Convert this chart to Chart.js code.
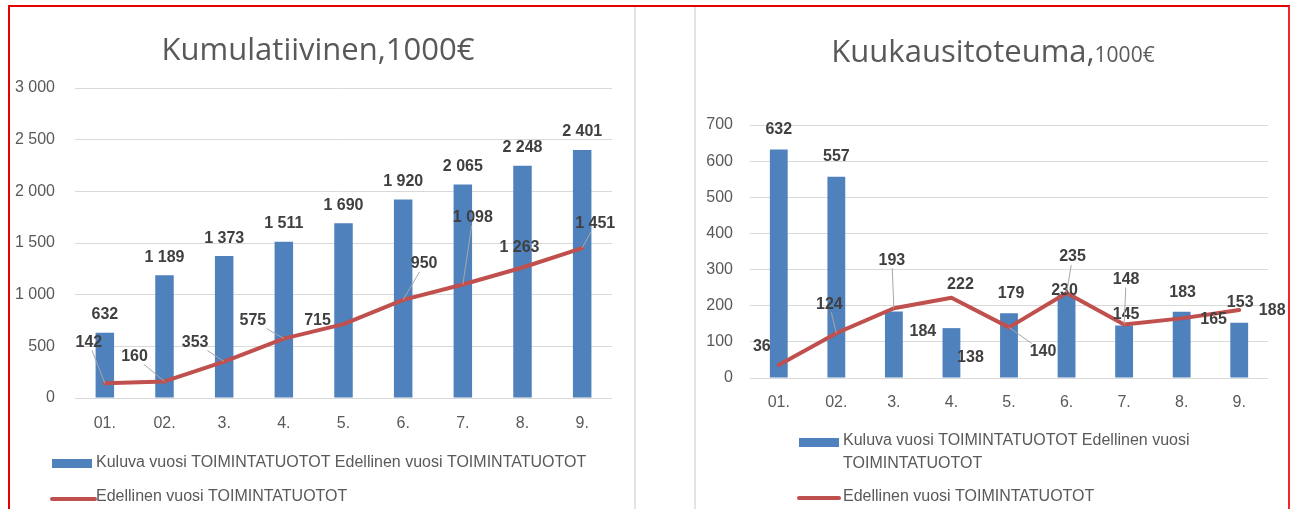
<!DOCTYPE html>
<html>
<head>
<meta charset="utf-8">
<script src="https://cdn.jsdelivr.net/npm/chart.js@4.4.0/dist/chart.umd.min.js"></script>
<style>
  html, body { margin: 0; padding: 0; background: #fff; }
  body { width: 1291px; height: 509px; overflow: hidden; position: relative; }
  #frame { position: absolute; left: 8px; top: 5px; width: 1282px; height: 520px; box-sizing: border-box;
           border-left: 2px solid rgb(230,0,0); border-top: 2px solid rgb(230,0,0); border-right: 2px solid rgb(240,40,40); }
  .sep { position: absolute; top: 7px; width: 2px; height: 502px; background: #e3e3e3; }
  .wrap { position: absolute; top: 7px; height: 502px; }
  #w1 { left: 10px; width: 624px; }
  #w2 { left: 696px; width: 590px; }
</style>
</head>
<body>
<div id="frame"></div>
<div class="sep" style="left:634px"></div>
<div class="sep" style="left:694px"></div>
<div class="wrap" id="w1"><canvas id="c1" width="624" height="502"></canvas></div>
<div class="wrap" id="w2"><canvas id="c2" width="590" height="502"></canvas></div>
<script>
// ---------- DATA ----------
const months = ['01.', '02.', '3.', '4.', '5.', '6.', '7.', '8.', '9.'];
const cumCurrent  = [632, 1189, 1373, 1511, 1690, 1920, 2065, 2248, 2401];
const cumPrevious = [142, 160, 353, 575, 715, 950, 1098, 1263, 1451];
const monCurrent  = [632, 557, 184, 138, 179, 230, 145, 183, 153];
const monPrevious = [36, 124, 193, 222, 140, 235, 148, 165, 188];
const cumAxisMax = 3000, cumAxisStep = 500;
const monAxisMax = 700,  monAxisStep = 100;
const barSeriesName  = 'Kuluva vuosi TOIMINTATUOTOT Edellinen vuosi TOIMINTATUOTOT';
const lineSeriesName = 'Edellinen vuosi TOIMINTATUOTOT';
const cumTitle = 'Kumulatiivinen,1000€';
const monTitleMain = 'Kuukausitoteuma,';
const monTitleUnit = '1000€';

// ---------- LABEL PLACEMENT (pixel offsets of data labels from their point) ----------
const cumBarLabelOff  = [[0,-18],[0,-18],[0,-18],[0,-18],[0,-18],[0,-18],[0,-18],[0,-18],[0,-18]];
const cumLineLabelOff = [[-16,-41],[-30,-25],[-29,-19],[-31,-18],[-26,-4],[21,-36],[10,-67],[-3,-20],[13,-24]];
const cumLineLeader   = [1,1,1,1,0,1,1,0,1];
const monBarLabelOff  = [[0,-20],[0,-20],[29,20],[19,29],[2,-20],[-2,-4],[2,-11],[1,-19],[1,-20]];
const monLineLabelOff = [[-17,-18],[-7,-29],[-2,-48],[9,-13],[34,24],[6,-36],[2,-45],[32,1],[33,1]];
const monLineLeader   = [0,1,1,0,1,1,1,0,0];

// ---------- STYLE ----------
const FONT = '"Liberation Sans", Arial, sans-serif';
const BAR_COLOR = '#4f81bd';
const LINE_COLOR = '#c0504d';
const TEXT_GRAY = '#595959';
const LABEL_COLOR = '#404040';

function fmt(v) { return String(v).replace(/\B(?=(\d{3})+(?!\d))/g, ' '); }

const valueLabels = {
  id: 'valueLabels',
  afterDatasetsDraw(chart, args, opts) {
    const ctx = chart.ctx;
    ctx.save();
    ctx.font = 'bold 16px ' + FONT;
    ctx.textAlign = 'center';
    ctx.textBaseline = 'middle';
    chart.data.datasets.forEach((ds, di) => {
      const meta = chart.getDatasetMeta(di);
      const offs = opts.offsets[di];
      const leaders = opts.leaders[di];
      meta.data.forEach((el, i) => {
        const px = el.x, py = el.y;
        const cx = px + offs[i][0], cy = py + offs[i][1];
        const text = fmt(ds.data[i]);
        if (leaders && leaders[i]) {
          const w = ctx.measureText(text).width / 2 + 2, h = 8;
          const dx = px - cx, dy = py - cy;
          const t = Math.min(dx !== 0 ? w / Math.abs(dx) : Infinity, dy !== 0 ? h / Math.abs(dy) : Infinity);
          if (t < 1) {
            ctx.strokeStyle = '#a6a6a6';
            ctx.lineWidth = 1;
            ctx.beginPath();
            ctx.moveTo(cx + dx * t, cy + dy * t);
            ctx.lineTo(px, py);
            ctx.stroke();
          }
        }
        ctx.fillStyle = LABEL_COLOR;
        ctx.fillText(text, cx, cy);
      });
    });
    ctx.restore();
  }
};

const decorations = {
  id: 'decorations',
  afterDraw(chart, args, opts) {
    const ctx = chart.ctx;
    ctx.save();
    // title
    ctx.textBaseline = 'alphabetic';
    ctx.textAlign = 'left';
    let total = 0;
    opts.title.parts.forEach(p => { ctx.font = p.font; total += ctx.measureText(p.text).width; });
    let x = opts.title.cx - total / 2;
    opts.title.parts.forEach(p => {
      ctx.font = p.font; ctx.fillStyle = TEXT_GRAY;
      ctx.fillText(p.text, x, opts.title.baseline);
      x += ctx.measureText(p.text).width;
    });
    // legend
    ctx.font = '16px ' + FONT;
    ctx.textBaseline = 'middle';
    opts.legend.forEach(item => {
      if (item.type === 'box') {
        ctx.fillStyle = item.color;
        ctx.fillRect(item.x, item.y, item.w, item.h);
      } else {
        ctx.strokeStyle = item.color; ctx.lineWidth = 4; ctx.lineCap = 'round';
        ctx.beginPath(); ctx.moveTo(item.x, item.y); ctx.lineTo(item.x + item.w, item.y); ctx.stroke();
      }
      ctx.fillStyle = TEXT_GRAY;
      item.lines.forEach((ln, k) => ctx.fillText(ln, item.tx, item.ty + k * item.lh));
    });
    ctx.restore();
  }
};

function makeChart(id, cur, prev, max, step, cfg) {
  return new Chart(document.getElementById(id), {
    type: 'bar',
    data: {
      labels: months,
      datasets: [
        { type: 'bar', label: barSeriesName, data: cur, backgroundColor: BAR_COLOR,
          barPercentage: 0.31, categoryPercentage: 1, order: 2 },
        { type: 'line', label: lineSeriesName, data: prev, borderColor: LINE_COLOR, borderWidth: 4,
          pointRadius: 0, tension: 0, borderJoinStyle: 'round', borderCapStyle: 'round', order: 1 }
      ]
    },
    options: {
      responsive: false,
      animation: false,
      events: [],
      layout: { autoPadding: false, padding: cfg.padding },
      plugins: {
        legend: { display: false },
        title: { display: false },
        tooltip: { enabled: false },
        valueLabels: { offsets: cfg.offsets, leaders: cfg.leaders },
        decorations: { title: cfg.title, legend: cfg.legend }
      },
      scales: {
        x: {
          grid: { display: false, drawTicks: false },
          border: { display: false },
          ticks: { color: TEXT_GRAY, font: { family: FONT, size: 16 }, padding: cfg.xPad, maxRotation: 0, autoSkip: false },
          afterFit(s) { s.height = 40; }
        },
        y: {
          min: 0, max: max,
          grid: { color: '#d9d9d9', lineWidth: 1, drawTicks: false },
          border: { display: false },
          ticks: { stepSize: step, color: TEXT_GRAY, font: { family: FONT, size: 16 }, padding: cfg.yPad, callback: v => fmt(v) },
          afterFit(s) { s.width = cfg.yWidth; }
        }
      }
    },
    plugins: [valueLabels, decorations]
  });
}

// Left: cumulative
makeChart('c1', cumCurrent, cumPrevious, cumAxisMax, cumAxisStep, {
  padding: { left: 0, right: 22, top: 81, bottom: 71 },
  yWidth: 65, yPad: 20, xPad: 16,
  offsets: [cumBarLabelOff, cumLineLabelOff],
  leaders: [null, cumLineLeader],
  title: { cx: 308, baseline: 53, parts: [{ text: cumTitle, font: '31px "Open Sans", ' + FONT }] },
  legend: [
    { type: 'box', color: BAR_COLOR, x: 42, y: 452, w: 40, h: 9, tx: 86, ty: 456, lh: 0, lines: [barSeriesName] },
    { type: 'line', color: LINE_COLOR, x: 42, y: 492, w: 43, tx: 86, ty: 490, lh: 0, lines: [lineSeriesName] }
  ]
});

// Right: monthly
makeChart('c2', monCurrent, monPrevious, monAxisMax, monAxisStep, {
  padding: { left: 0, right: 18, top: 118, bottom: 91 },
  yWidth: 54, yPad: 17, xPad: 15,
  offsets: [monBarLabelOff, monLineLabelOff],
  leaders: [null, monLineLeader],
  title: { cx: 297, baseline: 55, parts: [
    { text: monTitleMain, font: '31px "Open Sans", ' + FONT },
    { text: monTitleUnit, font: '21px "Open Sans", ' + FONT }
  ] },
  legend: [
    { type: 'box', color: BAR_COLOR, x: 103, y: 431, w: 40, h: 9, tx: 147, ty: 434, lh: 23,
      lines: ['Kuluva vuosi TOIMINTATUOTOT Edellinen vuosi', 'TOIMINTATUOTOT'] },
    { type: 'line', color: LINE_COLOR, x: 103, y: 491, w: 40, tx: 147, ty: 490, lh: 0, lines: [lineSeriesName] }
  ]
});
</script>
</body>
</html>
